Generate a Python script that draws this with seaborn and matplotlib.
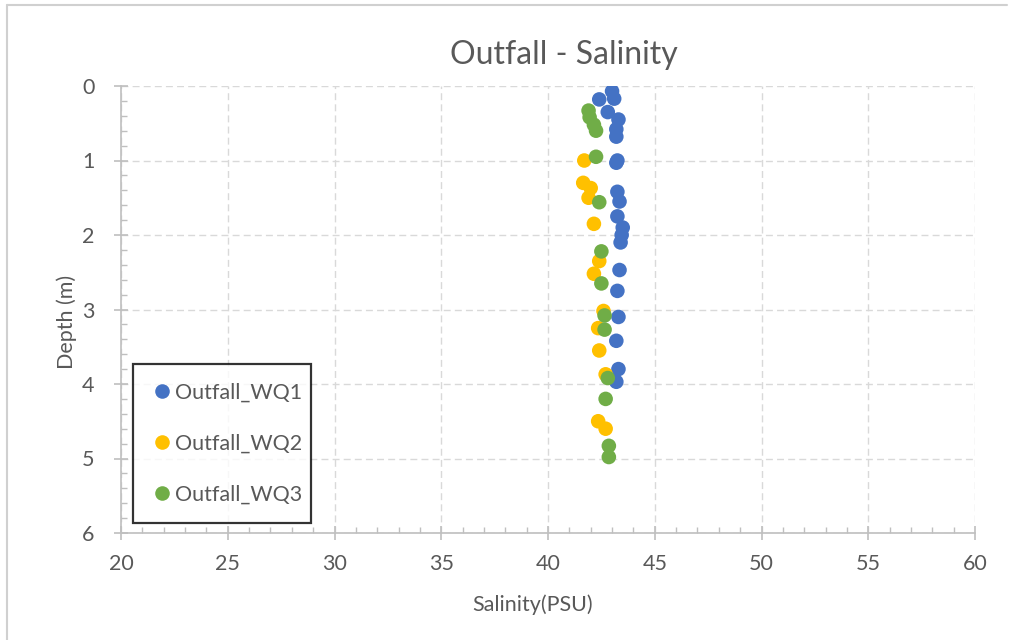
import numpy as np
import pandas as pd
import matplotlib
matplotlib.use("Agg")
import matplotlib.pyplot as plt
from matplotlib.ticker import MultipleLocator
import seaborn as sns

# Outfall CTD casts: depth (m) and salinity (PSU)
wq1_depth = [0.07, 0.17, 0.18, 0.35, 0.45, 0.58, 0.68, 1.00, 1.03, 1.42, 1.55,
             1.75, 1.90, 2.00, 2.10, 2.47, 2.75, 3.10, 3.42, 3.80, 3.97]
wq1_sal = [43.0, 43.1, 42.4, 42.8, 43.3, 43.2, 43.2, 43.25, 43.2, 43.25, 43.35,
           43.25, 43.5, 43.45, 43.4, 43.35, 43.25, 43.3, 43.2, 43.3, 43.2]

wq2_depth = [1.00, 1.30, 1.37, 1.50, 1.85, 2.35, 2.52, 3.02, 3.25, 3.55, 3.87,
             4.50, 4.60]
wq2_sal = [41.7, 41.65, 42.0, 41.9, 42.15, 42.4, 42.15, 42.6, 42.35, 42.4, 42.7,
           42.35, 42.7]

wq3_depth = [0.33, 0.42, 0.52, 0.60, 0.95, 1.56, 2.22, 2.65, 3.08, 3.27, 3.92,
             4.20, 4.83, 4.98]
wq3_sal = [41.9, 41.95, 42.15, 42.25, 42.25, 42.4, 42.5, 42.5, 42.65, 42.65,
           42.8, 42.7, 42.85, 42.85]

series_names = ["Outfall_WQ1", "Outfall_WQ2", "Outfall_WQ3"]
series_colors = ["#4472C4", "#FFC000", "#70AD47"]

frames = []
for name, d, s in zip(series_names, [wq1_depth, wq2_depth, wq3_depth],
                      [wq1_sal, wq2_sal, wq3_sal]):
    frames.append(pd.DataFrame({"Depth": d, "Salinity": s, "Station": name}))
df = pd.concat(frames, ignore_index=True)

sns.set_theme(style="white")
plt.rcParams["font.family"] = ["Lato", "DejaVu Sans"]

text_gray = "#595959"
axis_gray = "#BFBFBF"
grid_gray = "#D9D9D9"
W, H = 1013, 640

fig = plt.figure(figsize=(W / 100, H / 100), dpi=100)
ax = fig.add_axes([121 / W, 1 - 533 / H, (975 - 121) / W, (533 - 86) / H])

sns.scatterplot(data=df, x="Salinity", y="Depth", hue="Station",
                hue_order=series_names, palette=series_colors,
                s=110, edgecolor="none", linewidth=0, ax=ax, zorder=3)

ax.set_xlim(20, 60)
ax.set_ylim(6, 0)
ax.xaxis.set_major_locator(MultipleLocator(5))
ax.xaxis.set_minor_locator(MultipleLocator(1))
ax.yaxis.set_major_locator(MultipleLocator(1))
ax.yaxis.set_minor_locator(MultipleLocator(0.2))

ax.grid(True, which="major", color=grid_gray, linestyle=(0, (5, 3)), linewidth=1)
ax.set_axisbelow(True)

for side in ["top", "right"]:
    ax.spines[side].set_visible(False)
for side in ["left", "bottom"]:
    ax.spines[side].set_color(axis_gray)
    ax.spines[side].set_linewidth(1.2)

ax.tick_params(which="major", direction="inout", length=10, width=1.2,
               color=axis_gray, labelsize=15.5, labelcolor=text_gray)
ax.tick_params(axis="x", which="major", pad=10)
ax.tick_params(axis="y", which="major", pad=14)
ax.tick_params(which="minor", direction="in", length=4, width=1,
               color=axis_gray)
ax.tick_params(axis="x", which="both", bottom=True)
ax.tick_params(axis="y", which="both", left=True)

ax.set_xlabel("")
ax.set_ylabel("")
fig.text(533 / W, 1 - 605 / H, "Salinity(PSU)", fontsize=15.5, color=text_gray,
         ha="center", va="center")
fig.text(67 / W, 1 - 322 / H, "Depth (m)", fontsize=15.5, color=text_gray,
         ha="center", va="center", rotation=90)
fig.text(564 / W, 1 - 55 / H, "Outfall - Salinity", fontsize=23, color=text_gray,
         ha="center", va="center")

leg = ax.legend(loc="lower left", bbox_to_anchor=(0.014, 0.022, 0.208, 0.352),
                mode="expand", frameon=True, fancybox=False, fontsize=15.5,
                labelcolor=text_gray, handletextpad=0.1, borderpad=0.85,
                labelspacing=1.45, handlelength=1.0, borderaxespad=0,
                markerscale=1.0)
leg.get_frame().set_edgecolor("black")
leg.get_frame().set_linewidth(1.6)

# chart area border along the top and left
fig.add_artist(plt.Line2D([7 / W, 1007 / W], [1 - 5 / H, 1 - 5 / H],
                          color="#D0D0D0", linewidth=1.5, transform=fig.transFigure))
fig.add_artist(plt.Line2D([7 / W, 7 / W], [1 - 5 / H, 0],
                          color="#D0D0D0", linewidth=1.5, transform=fig.transFigure))

fig.savefig("out.png", dpi=100)
